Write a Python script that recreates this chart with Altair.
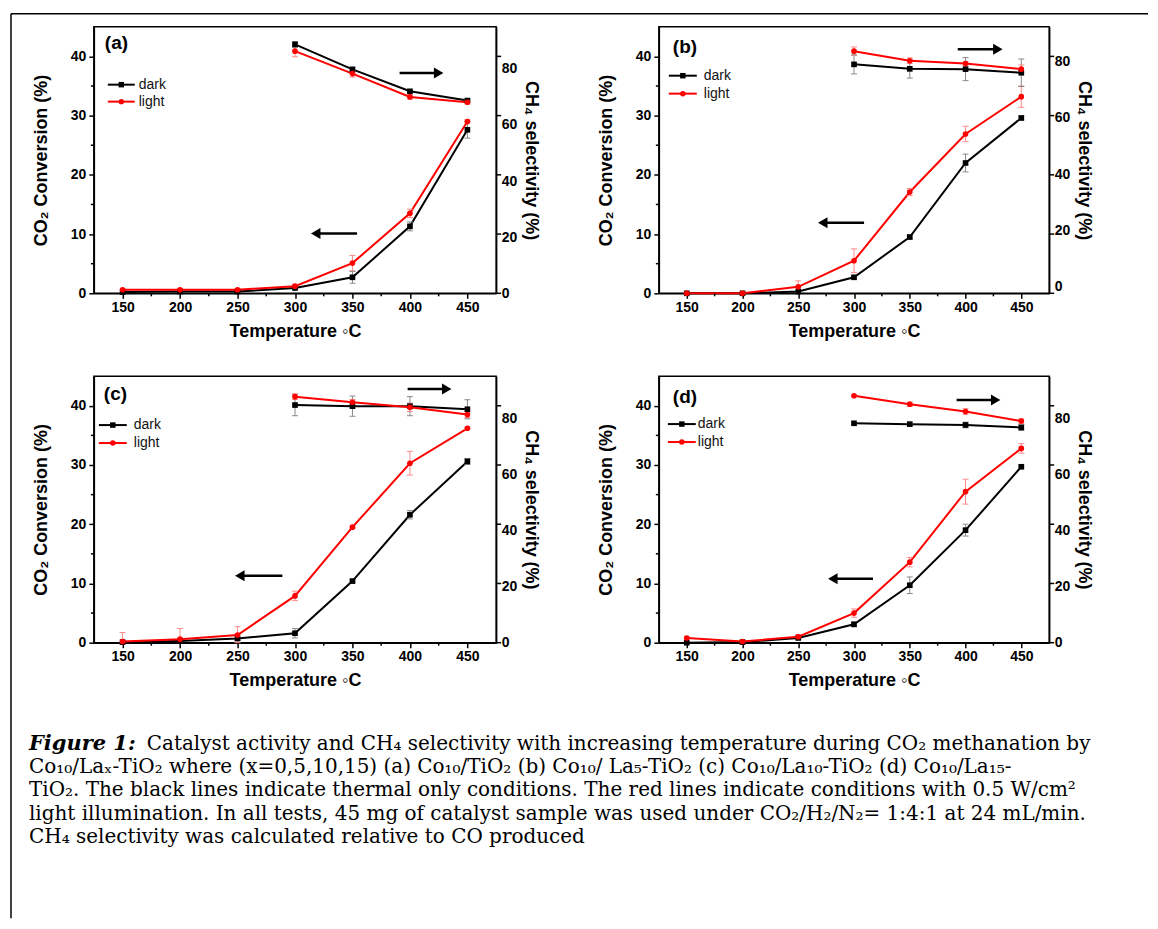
import altair as alt
import pandas as pd

# ---------------- data ----------------
temps = [150, 200, 250, 300, 350, 400, 450]
sel_temps = [300, 350, 400, 450]

conv_dark_a = [0.2, 0.3, 0.3, 0.9, 2.7, 11.3, 27.6]
conv_dark_err_a = [0, 0, 0, 0.2, 1.0, 0.75, 1.4]
conv_light_a = [0.6, 0.6, 0.6, 1.2, 5.1, 13.5, 29.0]
conv_light_err_a = [0, 0, 0, 0.3, 1.3, 0.7, 0.3]
sel_dark_a = [88.7, 79.8, 72.0, 68.7]
sel_dark_err_a = [1.0, 0.8, 0.5, 0.5]
sel_light_a = [86.3, 78.3, 70.0, 68.1]
sel_light_err_a = [2.0, 1.2, 0.8, 0.6]

conv_dark_b = [0.0, 0.0, 0.3, 2.7, 9.5, 22.0, 29.6]
conv_dark_err_b = [0, 0, 0, 0.3, 0.3, 1.5, 0.3]
conv_light_b = [0.0, 0.0, 1.1, 5.5, 17.1, 26.9, 33.2]
conv_light_err_b = [0, 0, 1.0, 2.0, 0.6, 1.3, 1.8]
sel_dark_b = [79.1, 77.5, 77.4, 76.1]
sel_dark_err_b = [3.4, 3.3, 4.1, 4.9]
sel_light_b = [83.8, 80.4, 79.4, 77.4]
sel_light_err_b = [1.5, 1.0, 0.6, 1.5]

conv_dark_c = [0.1, 0.3, 0.7, 1.6, 10.4, 21.6, 30.6]
conv_dark_err_c = [0, 0, 0.3, 0.8, 0.2, 0.7, 0.5]
conv_light_c = [0.2, 0.6, 1.3, 7.9, 19.5, 30.3, 36.2]
conv_light_err_c = [1.5, 1.8, 1.4, 0.8, 0.2, 2.0, 0.2]
sel_dark_c = [84.7, 84.3, 84.3, 83.2]
sel_dark_err_c = [3.8, 3.6, 3.4, 3.4]
sel_light_c = [87.7, 85.7, 83.9, 81.3]
sel_light_err_c = [1.0, 1.0, 1.5, 1.0]

conv_dark_d = [0.0, 0.1, 0.8, 3.1, 9.7, 19.0, 29.7]
conv_dark_err_d = [0, 0, 0.2, 0.4, 1.4, 1.0, 0.2]
conv_light_d = [0.8, 0.2, 1.0, 5.0, 13.6, 25.5, 32.8]
conv_light_err_d = [0.2, 0.1, 0.4, 0.7, 0.8, 2.1, 0.8]
sel_dark_d = [78.2, 77.9, 77.6, 76.7]
sel_dark_err_d = [0.3, 0.3, 1.0, 1.0]
sel_light_d = [88.0, 85.0, 82.4, 79.0]
sel_light_err_d = [0.3, 0.8, 1.0, 0.8]

panel_labels = ["(a)", "(b)", "(c)", "(d)"]
series_labels = ["dark", "light"]

# arrows (tail, head, y in data units)
left_arrow_tail = [354, 309, 289, 317]
left_arrow_head = [318, 272, 252, 281]
left_arrow_y = [10.1, 11.9, 11.3, 10.8]
right_arrow_tail = [391, 393, 398, 392]
right_arrow_head = [425, 429, 432, 427]
right_arrow_y = [78.5, 84.5, 90.4, 86.5]

x_major = [150, 200, 250, 300, 350, 400, 450]
x_minor = [175, 225, 275, 325, 375, 425]
y_major = [0, 10, 20, 30, 40]
y_minor = [5, 15, 25, 35]
sel_ticks = [0, 20, 40, 60, 80]

caption_head = "Figure 1:"
caption_lines = [
    "Catalyst activity and CH\u2084 selectivity with increasing temperature during CO\u2082 methanation by",
    "Co\u2081\u2080/La\u2093-TiO\u2082 where (x=0,5,10,15) (a) Co\u2081\u2080/TiO\u2082 (b) Co\u2081\u2080/ La\u2085-TiO\u2082 (c) Co\u2081\u2080/La\u2081\u2080-TiO\u2082 (d) Co\u2081\u2080/La\u2081\u2085-",
    "TiO\u2082. The black lines indicate thermal only conditions. The red lines indicate conditions with 0.5 W/cm\u00b2",
    "light illumination. In all tests, 45 mg of catalyst sample was used under CO\u2082/H\u2082/N\u2082= 1:4:1 at 24 mL/min.",
    "CH\u2084 selectivity was calculated relative to CO produced",
]

# ---------------- layout / style ----------------
SERIES = {
    "a": (conv_dark_a, conv_dark_err_a, conv_light_a, conv_light_err_a, sel_dark_a, sel_dark_err_a, sel_light_a, sel_light_err_a),
    "b": (conv_dark_b, conv_dark_err_b, conv_light_b, conv_light_err_b, sel_dark_b, sel_dark_err_b, sel_light_b, sel_light_err_b),
    "c": (conv_dark_c, conv_dark_err_c, conv_light_c, conv_light_err_c, sel_dark_c, sel_dark_err_c, sel_light_c, sel_light_err_c),
    "d": (conv_dark_d, conv_dark_err_d, conv_light_d, conv_light_err_d, sel_dark_d, sel_dark_err_d, sel_light_d, sel_light_err_d),
}
W = {"a": 403, "b": 391, "c": 403, "d": 391}
H = 267
SEL_DOMAIN = {"a": [0, 95], "b": [-2.5, 92.5], "c": [0, 95], "d": [0, 95]}
LABEL_POS = {"a": (11, 16), "b": (14, 20), "c": (10, 18), "d": (14, 21)}
LEGEND_POS = {"a": (14, 41, 45, 58, 75), "b": (10, 38, 45, 49, 67),
              "c": (5, 33, 40, 49, 67), "d": (9, 37, 39, 48, 66)}
FONT = "Liberation Sans"
DARK, LIGHT = "#000000", "#ff0000"
DARK_E, LIGHT_E = "#8a8a8a", "#ff8a8a"
one = pd.DataFrame({"k": [0]})

XAXIS = alt.Axis(values=x_major, title="Temperature \u25e6C", tickSize=5,
                 labelPadding=2, titlePadding=8, grid=False)
YAXIS_L = alt.Axis(orient="left", values=y_major, title="CO\u2082 Conversion (%)",
                   tickSize=5, labelPadding=3, titlePadding=20, grid=False)
YAXIS_R = alt.Axis(orient="right", values=sel_ticks, title="CH\u2084 selectivity (%)",
                   ticks=False, labelPadding=5, titlePadding=5, grid=False)


def X(field):
    return alt.X(field, scale=alt.Scale(domain=[125, 475], nice=False, zero=False), axis=XAXIS)


def conv_y(field):
    return alt.Y(field, scale=alt.Scale(domain=[0, 45], nice=False, zero=False), axis=YAXIS_L)


def build_df(xv, dark, dark_e, light, light_e, lo_min):
    n = len(xv)
    df = pd.DataFrame({
        "temp": list(xv) * 2,
        "val": list(dark) + list(light),
        "err": list(dark_e) + list(light_e),
        "col": [DARK] * n + [LIGHT] * n,
        "ecol": [DARK_E] * n + [LIGHT_E] * n,
        "shp": ["square"] * n + ["circle"] * n,
    })
    df["lo"] = (df["val"] - df["err"]).clip(lower=lo_min)
    df["hi"] = df["val"] + df["err"]
    return df


def series_layers(df, Y):
    err = df[df["err"] > 0]
    e1 = alt.Chart(err).mark_rule(strokeWidth=1).encode(
        x=X("temp:Q"), y=Y("lo:Q"), y2="hi:Q", color=alt.Color("ecol:N", scale=None))
    e2 = alt.Chart(err).mark_rule(strokeWidth=1, xOffset=-3, x2Offset=3).encode(
        x=X("temp:Q"), x2="temp:Q", y=Y("lo:Q"), color=alt.Color("ecol:N", scale=None))
    e3 = alt.Chart(err).mark_rule(strokeWidth=1, xOffset=-3, x2Offset=3).encode(
        x=X("temp:Q"), x2="temp:Q", y=Y("hi:Q"), color=alt.Color("ecol:N", scale=None))
    line = alt.Chart(df).mark_line(strokeWidth=2).encode(
        x=X("temp:Q"), y=Y("val:Q"), color=alt.Color("col:N", scale=None))
    pts = alt.Chart(df).mark_point(filled=True, size=32, opacity=1).encode(
        x=X("temp:Q"), y=Y("val:Q"), color=alt.Color("col:N", scale=None),
        shape=alt.Shape("shp:N", scale=None))
    return [line, e1, e2, e3, pts]


def arrow(tail, head, yv, Y, shape):
    df = pd.DataFrame({"x0": [tail], "x1": [head], "y": [yv]})
    r = alt.Chart(df).mark_rule(strokeWidth=2.5, color="black").encode(
        x=X("x0:Q"), x2="x1:Q", y=Y("y:Q"))
    h = alt.Chart(df).mark_point(shape=shape, filled=True, size=120, color="black", opacity=1).encode(
        x=X("x1:Q"), y=Y("y:Q"))
    return [r, h]


def make_panel(i, p):
    w = W[p]
    cd, cde, cl, cle, sd, sde, sl, sle = SERIES[p]
    sdom = SEL_DOMAIN[p]

    def sel_y(field):
        return alt.Y(field, scale=alt.Scale(domain=sdom, nice=False, zero=False), axis=YAXIS_R)

    conv_df = build_df(temps, cd, cde, cl, cle, 0)
    sel_df = build_df(sel_temps, sd, sde, sl, sle, sdom[0])

    left = series_layers(conv_df, conv_y)
    # minor ticks (bottom and left), mirrored ticks on right
    left.append(alt.Chart(pd.DataFrame({"t": x_minor})).mark_rule(strokeWidth=1.5, color="black").encode(
        x=X("t:Q"), y=alt.value(H), y2=alt.value(H + 3)))
    left.append(alt.Chart(pd.DataFrame({"v": y_minor})).mark_rule(strokeWidth=1.5, color="black").encode(
        y=conv_y("v:Q"), x=alt.value(0), x2=alt.value(-3)))
    left.append(alt.Chart(pd.DataFrame({"v": y_major})).mark_rule(strokeWidth=1.5, color="black").encode(
        y=conv_y("v:Q"), x=alt.value(w), x2=alt.value(w + 5)))
    left += arrow(left_arrow_tail[i], left_arrow_head[i], left_arrow_y[i], conv_y, "triangle-left")

    # legend
    lx0, lx1, tx, yd, yl = LEGEND_POS[p]
    for lab, yy, col, shp in [(series_labels[0], yd, DARK, "square"), (series_labels[1], yl, LIGHT, "circle")]:
        left.append(alt.Chart(one).mark_rule(strokeWidth=2, color=col).encode(
            x=alt.value(lx0), x2=alt.value(lx1), y=alt.value(yy)))
        left.append(alt.Chart(one).mark_point(filled=True, size=30, opacity=1, color=col, shape=shp).encode(
            x=alt.value((lx0 + lx1) / 2), y=alt.value(yy)))
        left.append(alt.Chart(one).mark_text(align="left", baseline="middle", font=FONT, fontSize=14,
                                              color="#111111").encode(
            x=alt.value(tx), y=alt.value(yy), text=alt.value(lab)))
    # panel label
    px, py = LABEL_POS[p]
    left.append(alt.Chart(one).mark_text(align="left", baseline="middle", font=FONT, fontSize=19,
                                          fontWeight="bold", color="black").encode(
        x=alt.value(px), y=alt.value(py), text=alt.value(panel_labels[i])))

    if p == "a":
        # outer frame of the figure
        left.append(alt.Chart(one).mark_rule(strokeWidth=1.5, color="black").encode(
            x=alt.value(-83), y=alt.value(-13), y2=alt.value(893)))
        left.append(alt.Chart(one).mark_rule(strokeWidth=1.5, color="black").encode(
            x=alt.value(-83), x2=alt.value(1056), y=alt.value(-13)))
    if p == "c":
        base_y = 374
        left.append(alt.Chart(one).mark_text(align="left", baseline="alphabetic", font="DejaVu Serif",
                                              fontSize=21, fontWeight="bold", fontStyle="italic",
                                              color="black").encode(
            x=alt.value(-65), y=alt.value(base_y), text=alt.value(caption_head)))
        for j, line in enumerate(caption_lines):
            left.append(alt.Chart(one).mark_text(align="left", baseline="alphabetic", font="DejaVu Serif",
                                                  fontSize=20, color="black").encode(
                x=alt.value(53 if j == 0 else -65), y=alt.value(base_y + 23.5 * j), text=alt.value(line)))

    right = series_layers(sel_df, sel_y)
    right += arrow(right_arrow_tail[i], right_arrow_head[i], right_arrow_y[i], sel_y, "triangle-right")

    return alt.layer(alt.layer(*left), alt.layer(*right)).resolve_scale(y="independent").properties(
        width=w, height=H)


panels = [make_panel(i, p) for i, p in enumerate(["a", "b", "c", "d"])]

chart = alt.concat(*panels, columns=2, bounds="flush",
                   spacing={"row": 83, "column": 163}).properties(
    padding={"left": 1, "top": 3, "right": 0, "bottom": 0}
).configure_view(
    stroke="black", strokeWidth=1.5
).configure_axis(
    labelFont=FONT, labelFontWeight="bold", labelFontSize=14, labelColor="black",
    titleFont=FONT, titleFontWeight="bold", titleFontSize=18, titleColor="black",
    domainColor="black", domainWidth=1.5, tickColor="black", tickWidth=1.5
)

chart.save("out.html", embed_options={"renderer": "svg", "actions": False})
